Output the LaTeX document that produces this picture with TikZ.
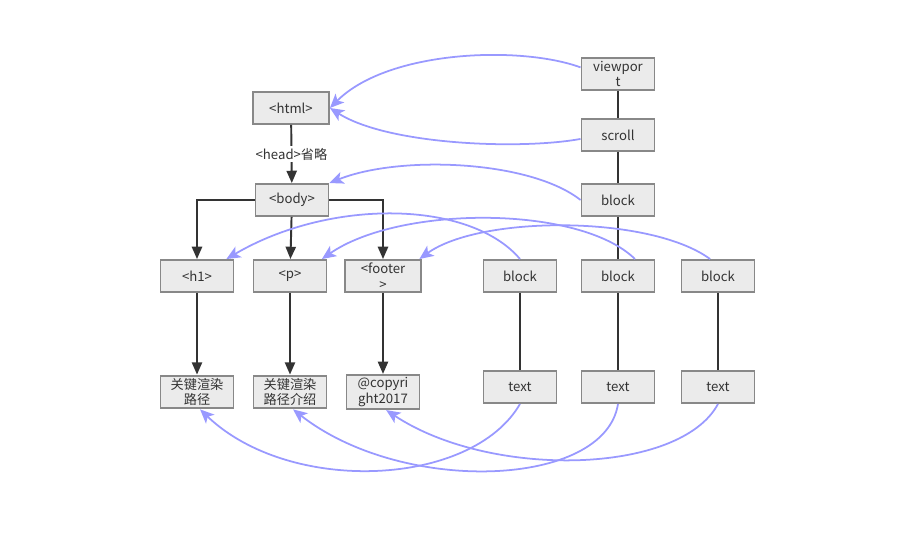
\documentclass[tikz,border=0pt]{standalone}
\usepackage{fontspec}
\setmainfont{Noto Sans CJK SC}
\usetikzlibrary{arrows.meta}
\definecolor{boxfill}{RGB}{235,235,235}
\definecolor{boxline}{RGB}{136,136,136}
\definecolor{inkgray}{RGB}{51,51,51}
\definecolor{linkblue}{RGB}{153,153,255}
\newcommand*{\boxtextstyle}{\fontsize{7.5}{8.8}\selectfont\color{inkgray}}
\tikzset{
   domnode/.style = {
      draw         = boxline,
      fill         = boxfill,
      line width   = 1.1pt,
      minimum width  = 1.46cm,
      minimum height = 0.64cm,
      inner xsep   = 1pt,
      inner ysep   = 1.5pt,
      align        = center,
      font         = \boxtextstyle
   },
   treearrow/.style = {
      draw = inkgray, line width = 1.1pt,
      -{Triangle[length=7pt,width=5.8pt]}
   },
   treeline/.style  = {draw = inkgray, line width = 1.1pt},
   linkarrow/.style = {
      draw = linkblue, line width = 1pt,
      -{Stealth[length=8pt,width=7pt,inset=2pt]}
   }
}

\begin{document}
\begin{tikzpicture}[x=0.02cm, y=-0.02cm]
   \useasboundingbox (0,0) rectangle (900,560);
   \fill[white] (0,0) rectangle (900,560);

   % dom tree
   \node[domnode, minimum width=1.52cm] (html)   at (291,108) {<html>};
   \node[domnode] (body)   at (292,200) {<body>};
   \node[domnode] (h1)     at (197,276) {<h1>};
   \node[domnode] (p)      at (290,276) {<p>};
   \node[domnode, minimum width=1.52cm] (footer) at (383,276) {<footer\\>};
   \node[domnode] (leafa)  at (197,392) {关键渲染\\路径};
   \node[domnode] (leafb)  at (290,392) {关键渲染\\路径介绍};
   \node[domnode] (leafc)  at (383,392) {@copyri\\ght2017};

   % render tree
   \node[domnode] (viewport) at (618,74)  {viewpor\\t};
   \node[domnode] (scroll)   at (618,135) {scroll};
   \node[domnode] (blocka)   at (618,200) {block};
   \node[domnode] (blockb)   at (520,276) {block};
   \node[domnode] (blockc)   at (618,276) {block};
   \node[domnode] (blockd)   at (718,276) {block};
   \node[domnode] (textb)    at (520,387) {text};
   \node[domnode] (textc)    at (618,387) {text};
   \node[domnode] (textd)    at (718,387) {text};

   \draw[treearrow] (html) -- (body)
      node[midway, fill=white, inner sep=1pt, font=\boxtextstyle] (headnote) {<head>省略};
   \draw[treearrow] (body.west) -| (h1.north);
   \draw[treearrow] (body) -- (p);
   \draw[treearrow] (body.east) -| (footer.north);
   \draw[treearrow] (h1) -- (leafa);
   \draw[treearrow] (p) -- (leafb);
   \draw[treearrow] (footer) -- (leafc);

   \draw[treeline] (viewport) -- (scroll);
   \draw[treeline] (scroll) -- (blocka);
   \draw[treeline] (blocka) -- (blockc);
   \draw[treeline] (blockc) -- (textc);
   \draw[treeline] (blockb) -- (textb);
   \draw[treeline] (blockd) -- (textd);

   % links between the trees
   \draw[linkarrow] (viewport.170) .. controls +(-60,-22) and +(58,-58) .. (html.east);
   \draw[linkarrow] (scroll.186) .. controls +(-60,11) and +(58,37) .. (html.east);
   \draw[linkarrow] (blocka.west) .. controls +(-51,-40) and +(70,-28) .. (body.north east);
   \draw[linkarrow] (blockb.north) .. controls +(-50,-59) and +(104,-61) .. (h1.30);
   \draw[linkarrow] (blockc.45) .. controls +(-55,-54) and +(78,-54) .. (p.28);
   \draw[linkarrow] (blockd.115) .. controls +(-60,-44) and +(61,-44) .. (footer.25);
   \draw[linkarrow] (textb.south) .. controls +(-48,83) and +(90,86) .. (leafa.-80);
   \draw[linkarrow] (textc.south) .. controls +(-13,84) and +(110,86) .. (leafb.-80);
   \draw[linkarrow] (textd.south) .. controls +(-38,71) and +(104,69) .. (leafc.-80);
\end{tikzpicture}
\end{document}
